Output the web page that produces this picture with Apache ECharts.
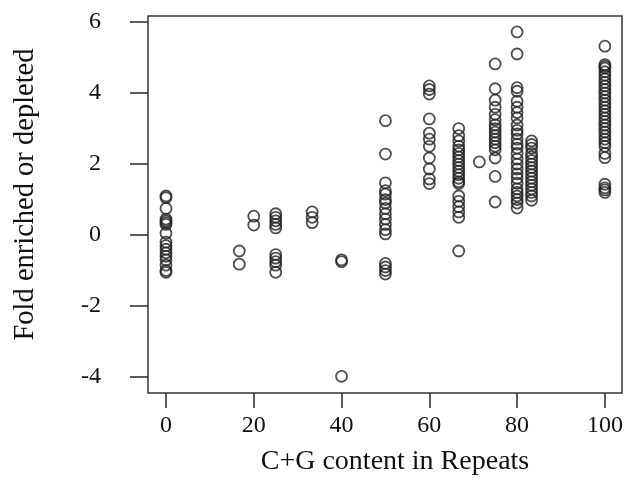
<!DOCTYPE html>
<html>
<head>
<meta charset="utf-8">
<script src="https://cdn.jsdelivr.net/npm/echarts@6/dist/echarts.min.js"></script>
<style>html,body{margin:0;padding:0;background:#fff}#c{width:627px;height:483px}</style>
</head>
<body>
<div id="c"></div>
<script>
// Column x positions (C+G content) and fold values per column
const colX = [0, 16.7, 20, 25, 33.3, 40, 50, 60, 66.7, 71.4, 75, 80, 83.3, 100];
const y0   = [1.1, 1.05, 0.75, 0.45, 0.4, 0.35, 0.3, 0.05, -0.2, -0.3, -0.4, -0.5, -0.6, -0.7, -0.85, -1.0, -1.05];
const y17  = [-0.45, -0.82];
const y20  = [0.53, 0.28];
const y25  = [0.6, 0.5, 0.4, 0.3, 0.2, -0.55, -0.65, -0.75, -0.85, -1.05];
const y33  = [0.65, 0.5, 0.35];
const y40  = [-0.7, -0.75, -3.98];
const y50  = [3.22, 2.28, 1.47, 1.25, 1.15, 1.0, 0.9, 0.75, 0.6, 0.45, 0.3, 0.15, 0.03, -0.8, -0.9, -1.0, -1.1];
const y60  = [4.2, 4.1, 3.97, 3.27, 2.87, 2.7, 2.5, 2.17, 1.86, 1.58, 1.45];
const y67  = [3.0, 2.8, 2.65, 2.5, 2.4, 2.3, 2.2, 2.1, 2.0, 1.9, 1.8, 1.7, 1.6, 1.5, 1.45, 1.1, 0.95, 0.8, 0.65, 0.5, -0.45];
const y71  = [2.06];
const y75  = [4.82, 4.12, 3.8, 3.6, 3.4, 3.25, 3.1, 3.0, 2.9, 2.8, 2.7, 2.6, 2.5, 2.4, 2.17, 1.65, 0.93];
const y80  = [5.72, 5.1, 4.15, 4.05, 3.77, 3.6, 3.45, 3.3, 3.1, 2.95, 2.85, 2.7, 2.56, 2.45, 2.3, 2.14, 2.0, 1.86, 1.72, 1.6, 1.46, 1.3, 1.2, 1.1, 1.0, 0.9, 0.76];
const y83  = [2.65, 2.55, 2.45, 2.3, 2.2, 2.1, 2.0, 1.9, 1.8, 1.7, 1.6, 1.5, 1.4, 1.3, 1.2, 1.1, 0.98];
const y100 = [5.32, 4.8, 4.75, 4.7, 4.6, 4.5, 4.4, 4.3, 4.2, 4.1, 4.0, 3.9, 3.8, 3.7, 3.6, 3.5, 3.4, 3.3, 3.2, 3.1, 3.0, 2.9, 2.8, 2.7, 2.6, 2.5, 2.3, 2.18, 1.43, 1.33, 1.27, 1.2];
const colY = [y0, y17, y20, y25, y33, y40, y50, y60, y67, y71, y75, y80, y83, y100];
const xTicks = [0, 20, 40, 60, 80, 100];
const yTicks = [-4, -2, 0, 2, 4, 6];

const data = [];
colX.forEach((x, i) => colY[i].forEach(v => data.push([x, v])));

const font = '"Liberation Serif", "Times New Roman", serif';
const chart = echarts.init(document.getElementById('c'), null, {renderer: 'canvas'});
chart.setOption({
  animation: false,
  backgroundColor: '#fff',
  grid: {left: 148, top: 16, right: 5, bottom: 90, show: true, borderColor: '#333', borderWidth: 1.5, backgroundColor: 'transparent'},
  xAxis: {
    type: 'value', min: -4.1, max: 103.9,
    name: 'C+G content in Repeats', nameLocation: 'middle', nameGap: 55,
    nameTextStyle: {fontFamily: font, fontSize: 28, color: '#111', padding: [0, 0, 0, 20]},
    axisLine: {show: false, onZero: false},
    splitLine: {show: false},
    axisTick: {show: true, inside: false, length: 15, customValues: xTicks, lineStyle: {color: '#333', width: 1.6}},
    axisLabel: {customValues: xTicks, margin: 21, fontFamily: font, fontSize: 24, color: '#111'}
  },
  yAxis: {
    type: 'value', min: -4.45, max: 6.17,
    name: 'Fold enriched or depleted', nameLocation: 'middle', nameGap: 108,
    nameTextStyle: {fontFamily: font, fontSize: 28.5, color: '#111', padding: [0, 0, 0, 20]},
    axisLine: {show: false, onZero: false},
    splitLine: {show: false},
    axisTick: {show: true, inside: false, length: 18, customValues: yTicks, lineStyle: {color: '#333', width: 1.6}},
    axisLabel: {customValues: yTicks, margin: 47, fontFamily: font, fontSize: 24, color: '#111'}
  },
  series: [{
    type: 'scatter',
    data: data,
    symbol: 'circle',
    symbolSize: 11,
    itemStyle: {color: 'rgba(255,255,255,0)', borderColor: '#222', borderWidth: 1.8}
  }]
});
</script>
</body>
</html>
